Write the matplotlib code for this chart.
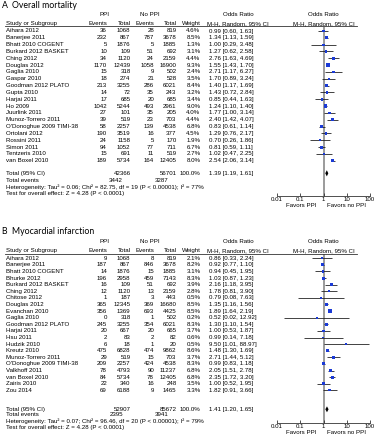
import matplotlib
matplotlib.use("Agg")
import matplotlib.pyplot as plt
import matplotlib.transforms as mtransforms
from matplotlib.lines import Line2D
from matplotlib.ticker import NullLocator
import numpy as np

# ---------------- Panel A: Overall mortality ----------------
a_studies = ["Aihara 2012", "Banerjee 2011", "Bhatt 2010 COGENT", "Burkard 2012 BASKET",
             "Ching 2012", "Douglas 2012", "Gaglia 2010", "Gaspar 2010", "Goodman 2012 PLATO",
             "Gupta 2010", "Harjai 2011", "Ho 2009", "Juurlink 2011", "Munoz-Torrero 2011",
             "O'Donoghue 2009 TIMI-38", "Ortolani 2012", "Rossini 2011", "Simon 2011",
             "Tentzeris 2010", "van Boxel 2010"]
a_ppi_events = [36, 232, 5, 10, 34, 1170, 15, 18, 213, 14, 17, 1042, 27, 39, 58, 190, 24, 94, 15, 189]
a_ppi_total = [1068, 867, 1876, 109, 1120, 12439, 318, 274, 3255, 72, 685, 5244, 101, 519, 2257,
               3519, 1158, 1052, 691, 5734]
a_no_events = [28, 787, 5, 51, 24, 1058, 9, 21, 286, 35, 20, 493, 35, 23, 139, 16, 5, 77, 11, 164]
a_no_total = [819, 3678, 1885, 692, 2159, 16900, 502, 528, 6021, 243, 685, 2961, 205, 703, 4538,
              377, 170, 711, 519, 12405]
a_weight = [4.6, 8.5, 1.3, 3.1, 4.4, 9.3, 2.4, 3.5, 8.4, 3.2, 3.4, 9.0, 4.0, 4.4, 6.8, 4.5, 1.9, 6.7, 2.7, 8.0]
a_or = [0.99, 1.34, 1.00, 1.27, 2.76, 1.55, 2.71, 1.70, 1.40, 1.43, 0.85, 1.24, 1.77, 2.40, 0.83,
        1.29, 0.70, 0.81, 1.02, 2.54]
a_lo = [0.60, 1.13, 0.29, 0.62, 1.63, 1.43, 1.17, 0.89, 1.17, 0.72, 0.44, 1.10, 1.00, 1.42, 0.61,
        0.76, 0.26, 0.59, 0.47, 2.06]
a_hi = [1.63, 1.59, 3.48, 2.58, 4.69, 1.70, 6.27, 3.24, 1.69, 2.84, 1.63, 1.40, 3.14, 4.07, 1.14,
        2.17, 1.86, 1.11, 2.25, 3.14]
a_sum_ppi_total, a_sum_no_total = 42366, 56701
a_sum_or, a_sum_lo, a_sum_hi = 1.39, 1.19, 1.61
a_events_ppi, a_events_no = 3442, 3287
a_het = "Heterogeneity: Tau² = 0.06; Chi² = 82.75, df = 19 (P < 0.00001); I² = 77%"
a_test = "Test for overall effect: Z = 4.28 (P < 0.0001)"

# ---------------- Panel B: Myocardial infarction ----------------
b_studies = ["Aihara 2012", "Banerjee 2011", "Bhatt 2010 COGENT", "Bhurke 2012", "Burkard 2012 BASKET",
             "Ching 2012", "Chitose 2012", "Douglas 2012", "Evanchan 2010", "Gaglia 2010",
             "Goodman 2012 PLATO", "Harjai 2011", "Hsu 2011", "Hudzik 2010", "Kreutz 2010",
             "Munoz-Torrero 2011", "O'Donoghue 2009 TIMI-38", "Valkhoff 2011", "van Boxel 2010",
             "Zairis 2010", "Zou 2014"]
b_ppi_events = [9, 187, 14, 196, 16, 12, 1, 365, 356, 0, 245, 20, 2, 6, 475, 29, 209, 78, 84, 22, 69]
b_ppi_total = [1068, 867, 1876, 2958, 109, 1120, 187, 12345, 1369, 318, 3255, 667, 83, 18, 6828,
               519, 2257, 4793, 5734, 340, 6188]
b_no_events = [8, 846, 15, 459, 51, 13, 3, 369, 693, 1, 354, 20, 2, 1, 474, 15, 424, 90, 78, 16, 9]
b_no_total = [819, 3678, 1885, 7143, 692, 2159, 443, 16680, 4425, 502, 6021, 665, 82, 20, 9862,
              703, 4538, 11237, 12405, 248, 1465]
b_weight = [2.1, 8.2, 3.1, 8.3, 3.9, 2.8, 0.5, 8.5, 8.5, 0.2, 8.3, 3.7, 0.6, 0.5, 8.6, 3.7, 8.3,
            6.8, 6.8, 3.5, 3.3]
b_or = [0.86, 0.92, 0.94, 1.03, 2.16, 1.78, 0.79, 1.35, 1.89, 0.52, 1.30, 1.00, 0.99, 9.50, 1.48,
        2.71, 0.99, 2.05, 2.35, 1.00, 1.82]
b_lo = [0.33, 0.77, 0.45, 0.87, 1.18, 0.81, 0.08, 1.16, 1.64, 0.02, 1.10, 0.53, 0.14, 1.01, 1.30,
        1.44, 0.83, 1.51, 1.72, 0.52, 0.91]
b_hi = [2.24, 1.10, 1.95, 1.23, 3.95, 3.90, 7.63, 1.56, 2.19, 12.92, 1.54, 1.87, 7.18, 88.97, 1.69,
        5.12, 1.18, 2.78, 3.20, 1.95, 3.66]
b_sum_ppi_total, b_sum_no_total = 52907, 85672
b_sum_or, b_sum_lo, b_sum_hi = 1.41, 1.20, 1.65
b_events_ppi, b_events_no = 2395, 3941
b_het = "Heterogeneity: Tau² = 0.07; Chi² = 96.46, df = 20 (P < 0.00001); I² = 79%"
b_test = "Test for overall effect: Z = 4.28 (P < 0.0001)"

tick_vals = [0.01, 0.1, 1, 10, 100]
tick_labels = ["0.01", "0.1", "1", "10", "100"]

# ---------------- style / layout ----------------
plt.rcParams["font.family"] = ["Liberation Sans", "DejaVu Sans"]
W, H = 380, 440
FS = 4.4
TXT = "#000000"
BLUE = "#1a3ad6"
X_LO, X_HI = 277, 370          # pixel span of the log axis (0.01 .. 100)
COL_NAME = 6
COL_EV1, COL_TOT1, COL_EV2, COL_TOT2 = 107, 130.5, 154, 176.5
COL_WT = 200.5
COL_OR = 209
COL_OR_HDR = 238
COL_PLOT_HDR = 323.5

fig = plt.figure(figsize=(W / 100, H / 100), dpi=100)


def draw_panel(letter, title, studies, pe, pt, ne, nt, wt, orv, lo, hi,
               sum_pt, sum_nt, sum_or, sum_lo, sum_hi, ev_p, ev_n, het, test, lay):
    y0, step = lay["y0"], lay["step"]
    rr = lambda px: (px - y0) / step
    ax = fig.add_axes([X_LO / W, 1 - lay["axis"] / H, (X_HI - X_LO) / W,
                       (lay["axis"] - lay["top"]) / H])
    ax.set_xscale("log")
    ax.set_xlim(tick_vals[0], tick_vals[-1])
    ax.set_ylim(rr(lay["axis"]), rr(lay["top"]))
    ax.patch.set_alpha(0)
    for s in ["top", "left", "right"]:
        ax.spines[s].set_visible(False)
    ax.spines["bottom"].set_linewidth(0.6)
    ax.spines["bottom"].set_color("#333333")
    ax.set_yticks([])
    ax.set_xticks(tick_vals)
    ax.set_xticklabels(tick_labels)
    ax.xaxis.set_minor_locator(NullLocator())
    ax.tick_params(axis="x", direction="in", length=2.5, width=0.6, labelsize=FS, pad=1.0,
                   colors="#333333", labelcolor=TXT)

    n = len(studies)
    rows = np.arange(n)
    ax.axvline(1, color="#8a8a8a", lw=1.2, zorder=1)
    ax.hlines(rows, lo, hi, color="#222222", lw=0.6, zorder=2)
    ax.scatter(orv, rows, marker="s", s=1.5 + 0.45 * np.asarray(wt), color=BLUE,
               linewidths=0, zorder=3)
    rt = rr(lay["total"])
    ax.fill([sum_lo, sum_or, sum_hi, sum_or], [rt, rt - 0.45, rt, rt + 0.45],
            color="black", lw=0, zorder=3)

    tr = mtransforms.blended_transform_factory(fig.transFigure, ax.transData)

    def t(px, r, s, ha="left", **kw):
        kw.setdefault("fontsize", FS)
        kw.setdefault("color", TXT)
        fig.text(px / W, r, s, transform=tr, ha=ha, va="center", **kw)

    # title
    t(1.5, rr(lay["title"]), letter, fontsize=6.3, family=["Lato", "DejaVu Sans"])
    t(11.5, rr(lay["title"]), title, fontsize=6.3, family=["Lato", "DejaVu Sans"])
    # headers
    t(104, rr(lay["hdr1"]), "PPI", ha="center")
    t(150, rr(lay["hdr1"]), "No PPI", ha="center")
    t(COL_OR_HDR, rr(lay["hdr1"]), "Odds Ratio", ha="center")
    t(COL_PLOT_HDR, rr(lay["hdr1"]), "Odds Ratio", ha="center")
    h2 = rr(lay["hdr2"])
    t(COL_NAME, h2, "Study or Subgroup")
    t(COL_EV1, h2, "Events", ha="right")
    t(COL_TOT1, h2, "Total", ha="right")
    t(COL_EV2, h2, "Events", ha="right")
    t(COL_TOT2, h2, "Total", ha="right")
    t(COL_WT, h2, "Weight", ha="right")
    t(COL_OR_HDR, h2, "M-H, Random, 95% CI", ha="center")
    t(COL_PLOT_HDR, h2, "M-H, Random, 95% CI", ha="center")
    ul = rr(lay["ul"])
    fig.add_artist(Line2D([5 / W, 357 / W], [ul, ul], transform=tr, lw=0.6, color="#333333"))

    for i in range(n):
        t(COL_NAME, i, studies[i])
        t(COL_EV1, i, f"{pe[i]}", ha="right")
        t(COL_TOT1, i, f"{pt[i]}", ha="right")
        t(COL_EV2, i, f"{ne[i]}", ha="right")
        t(COL_TOT2, i, f"{nt[i]}", ha="right")
        t(COL_WT, i, f"{wt[i]:.1f}%", ha="right")
        t(COL_OR, i, f"{orv[i]:.2f} [{lo[i]:.2f}, {hi[i]:.2f}]")

    t(COL_NAME, rt, "Total (95% CI)")
    t(COL_TOT1, rt, f"{sum_pt}", ha="right")
    t(COL_TOT2, rt, f"{sum_nt}", ha="right")
    t(COL_WT, rt, "100.0%", ha="right")
    t(COL_OR, rt, f"{sum_or:.2f} [{sum_lo:.2f}, {sum_hi:.2f}]")
    re = rr(lay["events"])
    t(COL_NAME, re, "Total events")
    t(123, re, f"{ev_p}", ha="right")
    t(168, re, f"{ev_n}", ha="right")
    t(COL_NAME, rr(lay["het"]), het)
    t(COL_NAME, rr(lay["test"]), test)
    rf = rr(lay["fav"])
    t(317, rf, "Favors PPI", ha="right")
    t(327, rf, "Favors no PPI", ha="left")


lay_a = dict(y0=31.0, step=6.83, top=26.8, axis=196.0, title=5.5, hdr1=15.0, hdr2=23.3,
             ul=26.3, total=173.3, events=180.0, het=186.7, test=193.3, fav=205.5)
lay_b = dict(y0=258.3, step=6.6, top=254.0, axis=423.0, title=232.0, hdr1=242.0, hdr2=250.7,
             ul=253.6, total=409.3, events=415.0, het=421.0, test=427.0, fav=433.0)

draw_panel("A", "Overall mortality", a_studies, a_ppi_events, a_ppi_total, a_no_events, a_no_total,
           a_weight, a_or, a_lo, a_hi, a_sum_ppi_total, a_sum_no_total, a_sum_or, a_sum_lo,
           a_sum_hi, a_events_ppi, a_events_no, a_het, a_test, lay_a)
draw_panel("B", "Myocardial infarction", b_studies, b_ppi_events, b_ppi_total, b_no_events,
           b_no_total, b_weight, b_or, b_lo, b_hi, b_sum_ppi_total, b_sum_no_total, b_sum_or,
           b_sum_lo, b_sum_hi, b_events_ppi, b_events_no, b_het, b_test, lay_b)

fig.savefig("out.png", dpi=100)
